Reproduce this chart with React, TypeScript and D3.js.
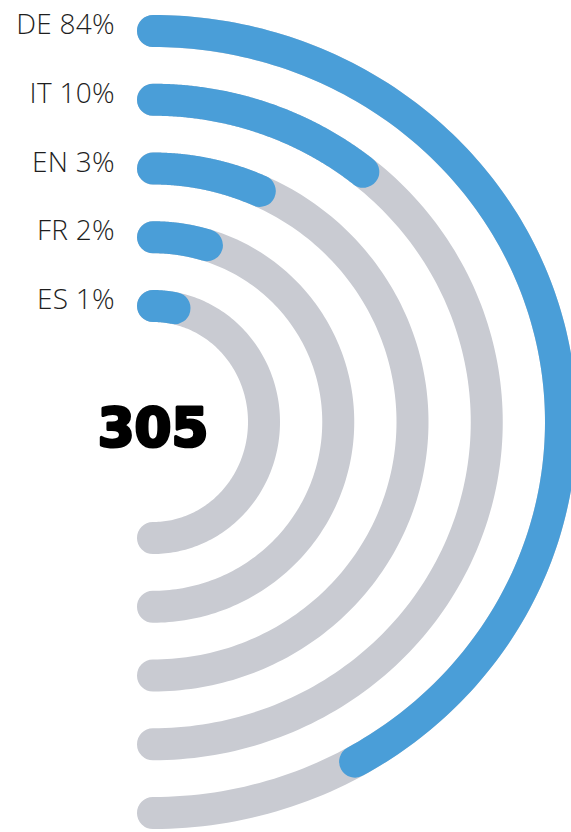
import React from "react";
import * as d3 from "d3";

// Languages, outermost ring first
const languages = ["DE", "IT", "EN", "FR", "ES"];
const shares = [84, 10, 3, 2, 1]; // percent shown in labels
// Portion of each half-ring painted blue
const arcFill = [0.835, 0.217, 0.135, 0.094, 0.062];
const total = 305;

const W = 571;
const H = 832;
const cx = 153;
const cy = 422;
const STROKE = 32;
const BLUE = "#4a9ed8";
const GREY = "#c9cbd2";

export default function App() {
  const inner = [...languages].reverse();
  const rx = d3.scalePoint<string>().domain(inner).range([111, 408]);
  const ry = d3.scalePoint<string>().domain(inner).range([116, 391]);
  const angle = d3.scaleLinear().domain([0, 1]).range([0, Math.PI]);

  const arcPath = (lang: string, from: number, to: number) => {
    const a = rx(lang)!;
    const b = ry(lang)!;
    const n = 160;
    const pts = d3.range(n + 1).map((i) => {
      const t = angle(from + ((to - from) * i) / n);
      return [cx + a * Math.sin(t), cy - b * Math.cos(t)] as [number, number];
    });
    return d3.line()(pts) || "";
  };

  return (
    <div style={{ position: "absolute", left: 0, top: 0 }}>
      <svg width={W} height={H} style={{ display: "block", background: "#fff" }}>
        {languages.map((lang, i) => (
          <g key={lang}>
            <path
              d={arcPath(lang, 0, 1)}
              fill="none"
              stroke={GREY}
              strokeWidth={STROKE}
              strokeLinecap="round"
            />
            <path
              d={arcPath(lang, 0, arcFill[i])}
              fill="none"
              stroke={BLUE}
              strokeWidth={STROKE}
              strokeLinecap="round"
            />
            <text
              x={115}
              y={cy - ry(lang)! - 8}
              textAnchor="end"
              dominantBaseline="central"
              fontFamily="'Open Sans', sans-serif"
              fontSize={28}
              fontWeight={300}
              letterSpacing={0.3}
              fill="#1e1e1e"
            >
              {`${lang} ${shares[i]}%`}
            </text>
          </g>
        ))}
        <text
          x={cx}
          y={446}
          textAnchor="middle"
          fontFamily="'DejaVu Sans', sans-serif"
          fontWeight={900}
          fontSize={53}
          fill="#000"
          stroke="#000"
          strokeWidth={3}
          strokeLinejoin="round"
        >
          {total}
        </text>
      </svg>
    </div>
  );
}
